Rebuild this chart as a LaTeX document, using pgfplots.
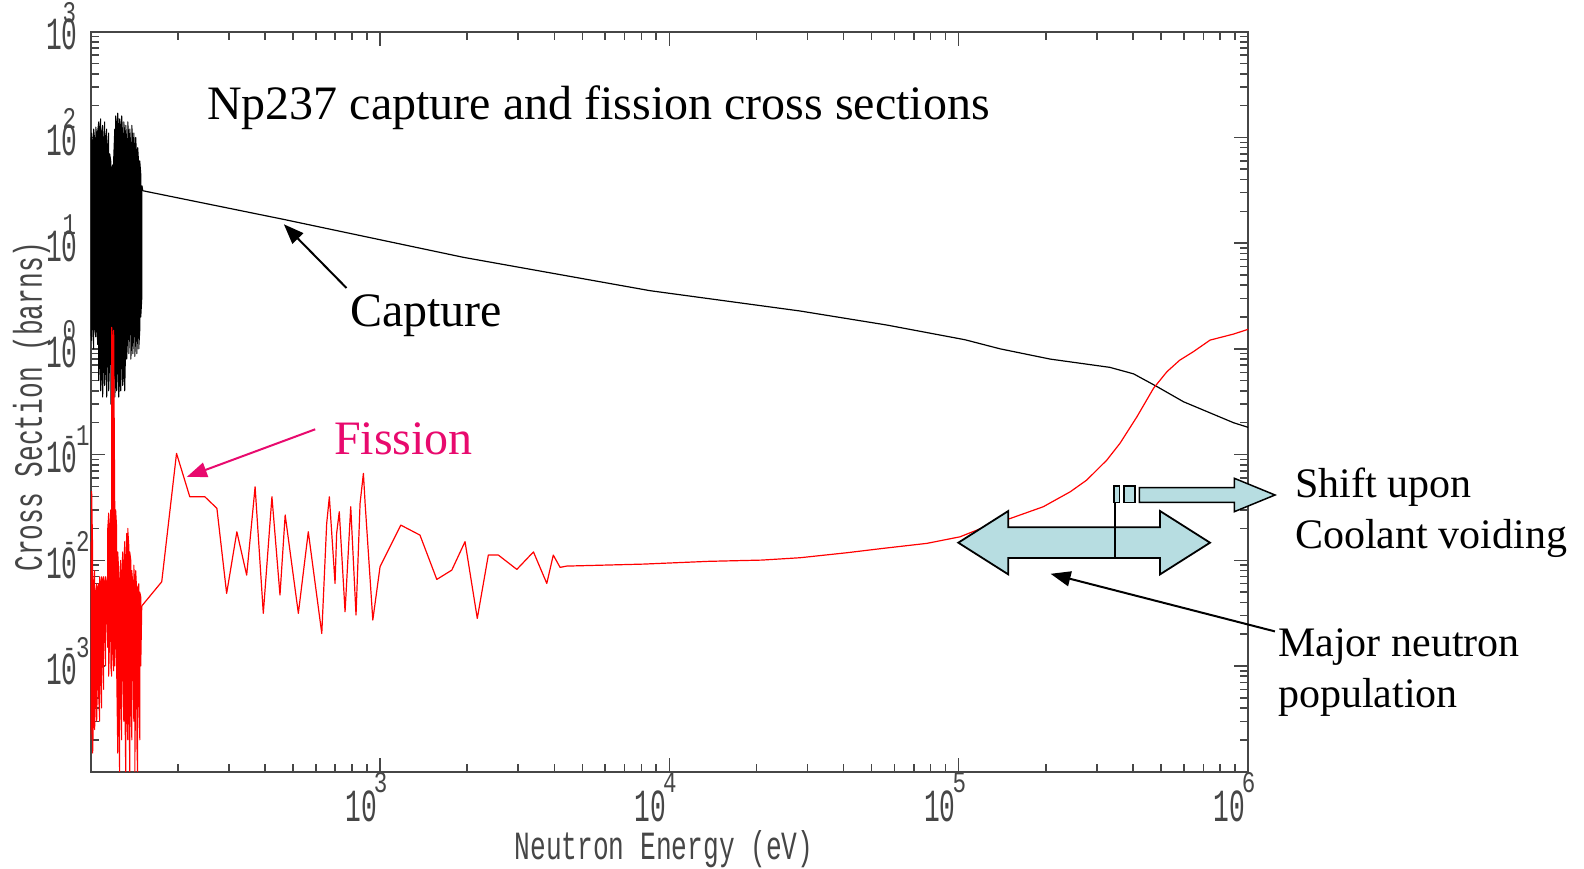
\documentclass[border=0pt]{standalone}
\usepackage{fontspec}
\setmainfont{Liberation Serif}
\newfontfamily\plotfont[FakeStretch=0.57]{Liberation Mono}
\newfontfamily\expfont[FakeStretch=0.75]{Liberation Mono}
\newfontfamily\labfont[FakeStretch=0.655]{Liberation Mono}
\usepackage{pgfplots}
\pgfplotsset{compat=1.18}
\usetikzlibrary{arrows.meta}
\definecolor{fisspink}{RGB}{232,10,110}
\definecolor{arrowcyan}{RGB}{183,221,225}
\definecolor{axgray}{RGB}{70,70,70}
\newcommand{\xlab}[1]{\plotfont\fontsize{46}{46}\selectfont 10\kern-3pt\rlap{\raisebox{29pt}[0pt][0pt]{\expfont\fontsize{30}{30}\selectfont #1}}\kern3pt}
\newcommand{\ylab}[1]{\plotfont\fontsize{46}{46}\selectfont 10\kern-15pt\rlap{\raisebox{27pt}[0pt][0pt]{\expfont\fontsize{30}{30}\selectfont #1}}\kern15pt}
\begin{document}
\begin{tikzpicture}
\useasboundingbox (0,0) rectangle (1584pt,868pt);
\begin{axis}[
  at={(90.7pt,96.3pt)}, anchor=south west,
  scale only axis, width=1157.3pt, height=740pt,
  xmode=log, ymode=log,
  xmin=100, xmax=1e6, ymin=1e-4, ymax=1e3,
  xtick={1e2,1e3,1e4,1e5,1e6},
  xticklabels={,\xlab{3},\xlab{4},\xlab{5},\xlab{6}},
  ytick={1e-4,1e-3,1e-2,1e-1,1,10,100,1000},
  yticklabels={,\ylab{-3},\ylab{-2},\ylab{-1},\ylab{0},\ylab{1},\ylab{2},\ylab{3}},
  minor xtick={200,300,400,500,600,700,800,900,2000,3000,4000,5000,6000,7000,8000,9000,20000,30000,40000,50000,60000,70000,80000,90000,200000,300000,400000,500000,600000,700000,800000,900000},
  minor ytick={2e-4,3e-4,4e-4,5e-4,6e-4,7e-4,8e-4,9e-4,2e-3,3e-3,4e-3,5e-3,6e-3,7e-3,8e-3,9e-3,0.02,0.03,0.04,0.05,0.06,0.07,0.08,0.09,0.2,0.3,0.4,0.5,0.6,0.7,0.8,0.9,2,3,4,5,6,7,8,9,20,30,40,50,60,70,80,90,200,300,400,500,600,700,800,900},
  tick align=inside,
  major tick length=14pt, minor tick length=8pt,
  axis line style={axgray, line width=2pt},
  every tick/.style={axgray, line width=1.5pt},
  xticklabel style={anchor=north east, inner sep=0pt, xshift=-3pt, yshift=-19pt, text=axgray},
  yticklabel style={anchor=east, inner sep=0pt, xshift=-13pt, yshift=-3pt, text=axgray},
]
% capture (black)
\addplot[black, line width=1pt, line join=round, no marks] coordinates {
(100.0,100)(100.0,1.5)(100.8,1.2)(100.8,110)(101.6,85)(101.6,1.8)(102.4,1.0)(102.4,120)
(103.2,95)(103.2,1.6)(104.1,1.3)(104.1,125)(104.9,105)(104.9,2.0)(105.7,1.1)(105.7,115)
(106.6,140)(106.6,0.5)(107.4,0.8)(107.4,120)(108.3,150)(108.3,0.4)(109.1,0.6)(109.1,110)
(110.0,130)(110.0,0.35)(110.9,0.9)(110.9,90)(111.8,140)(111.8,0.45)(112.7,0.7)(112.7,100)
(113.6,120)(113.6,0.35)(114.5,1.2)(114.5,80)(115.4,110)(115.4,0.4)(116.3,0.8)(116.3,70)
(117.3,60)(117.3,0.3)(118.2,0.5)(118.2,50)(119.1,55)(119.1,0.3)(120.1,0.6)(120.1,65)
(121.1,120)(121.1,0.35)(122.0,0.5)(122.0,160)(123.0,130)(123.0,0.4)(124.0,0.8)(124.0,170)
(125.0,110)(125.0,0.35)(126.0,0.55)(126.0,150)(127.0,120)(127.0,0.4)(128.0,1.0)(128.0,160)
(129.0,100)(129.0,0.45)(130.1,0.6)(130.1,140)(131.1,110)(131.1,0.4)(132.2,1.2)(132.2,130)
(133.2,90)(133.2,0.8)(134.3,1.4)(134.3,140)(135.4,100)(135.4,0.9)(136.5,1.6)(136.5,120)
(137.6,80)(137.6,0.8)(138.7,1.2)(138.7,130)(139.8,90)(139.8,0.9)(140.9,1.5)(140.9,110)
(142.0,70)(142.0,0.85)(143.1,1.3)(143.1,100)(144.3,60)(144.3,0.9)(145.4,1.4)(145.4,80)
(146.6,55)(146.6,1.0)(147.8,1.5)(147.8,60)(149.0,45)(149.0,2.0)(150.2,3.0)(150.2,35)
};
\addplot[black, line width=1.2pt, line join=round, no marks] coordinates {
(150.2,35)(151.4,31.3)(463,16.8)(1941,7.34)(8570,3.55)(28300,2.28)(56400,1.68)(105000,1.22)
(139000,1.0)(207000,0.80)(333000,0.668)(402000,0.58)(484000,0.44)(598000,0.316)
(891000,0.20)(1000000,0.181)
};
% fission (red)
\addplot[red, line width=1pt, line join=round, no marks] coordinates {
(100.0,0.015)(100.0,2e-4)(100.8,3e-4)(100.8,0.045)(101.6,0.012)(101.6,1.5e-4)(102.4,4e-4)(102.4,0.006)
(103.2,0.008)(103.2,2.5e-4)(104.1,6e-4)(104.1,0.005)(104.9,0.006)(104.9,3e-4)(105.7,1e-3)(105.7,0.0055)
(106.6,0.006)(106.6,5e-4)(107.4,3e-4)(107.4,0.007)(108.3,0.006)(108.3,8e-4)(109.1,4e-4)(109.1,0.007)
(110.0,0.0065)(110.0,1.2e-3)(110.9,6e-4)(110.9,0.007)(111.8,0.006)(111.8,2e-3)(112.7,1e-3)(112.7,0.007)
(113.6,0.006)(113.6,3e-3)(114.5,1.5e-3)(114.5,0.02)(115.4,0.028)(115.4,8e-4)(116.3,2e-3)(116.3,0.02)
(117.3,0.03)(117.3,1e-3)(118.2,8e-4)(118.2,1.6)(119.1,1.2)(119.1,1.5e-3)(120.1,9e-4)(120.1,1.5)
(121.1,0.035)(121.1,1e-3)(122.0,2e-3)(122.0,0.03)(123.0,0.02)(123.0,8e-4)(124.0,1.5e-4)(124.0,0.012)
(125.0,0.008)(125.0,3e-4)(126.0,8e-5)(126.0,0.006)(127.0,0.01)(127.0,5e-4)(128.0,2e-4)(128.0,0.007)
(129.0,0.012)(129.0,1e-3)(130.1,3e-4)(130.1,0.009)(131.1,0.015)(131.1,6e-4)(132.2,8e-5)(132.2,0.01)
(133.2,0.018)(133.2,4e-4)(134.3,2e-4)(134.3,0.02)(135.4,0.014)(135.4,8e-4)(136.5,8e-5)(136.5,0.012)
(137.6,0.01)(137.6,5e-4)(138.7,2e-4)(138.7,0.008)(139.8,0.006)(139.8,1.5e-3)(140.9,3e-4)(140.9,0.009)
(142.0,0.006)(142.0,1e-4)(143.1,6e-4)(143.1,0.008)(144.3,0.005)(144.3,2e-4)(145.4,8e-5)(145.4,0.0055)
(146.6,0.006)(146.6,5e-4)(147.8,2e-4)(147.8,0.005)(149.0,0.0045)(149.0,1e-3)(150.2,3.7e-3)
};
\addplot[red, line width=1.2pt, line join=round, no marks] coordinates {
(150.2,3.7e-3)(176,6.26e-3)(198,0.1026)(220,0.0399)(248,0.0399)(273,0.031)(295,4.86e-3)
(320,0.0186)(346,7.24e-3)(370,0.0496)(395,3.15e-3)(423,0.0399)(451,4.69e-3)(470,0.0268)
(522,3.15e-3)(565,0.0186)(629,2.03e-3)(654,0.0223)(668,0.0399)(699,6.04e-3)(708,0.018)
(723,0.0288)(757,3.26e-3)(792,0.0321)(826,3.03e-3)(853,0.0345)(876,0.0664)(888,0.0345)
(944,2.72e-3)(1000,8.69e-3)(1180,0.0215)(1374,0.0173)(1571,6.59e-3)(1770,8.07e-3)
(1967,0.0150)(2168,2.82e-3)(2367,0.0112)(2564,0.0112)(2970,8.20e-3)(3390,0.0120)
(3770,6.04e-3)(3970,0.0112)(4190,8.57e-3)(4415,8.81e-3)(8130,9.20e-3)(13650,9.77e-3)
(20840,0.01004)(28300,0.01057)(41000,0.01178)(54900,0.01297)(77600,0.01445)(101000,0.01667)
(132000,0.0223)(151000,0.0249)(196000,0.0321)(243000,0.0445)(277000,0.0574)(325000,0.0887)
(361000,0.128)(413000,0.228)(471000,0.423)(524000,0.607)(580000,0.78)(647000,0.94)(739000,1.21)
(891000,1.38)(1000000,1.53)
};
\end{axis}
\begin{scope}[x=1pt,y=-1pt,yshift=868pt]
% axis labels
\node[rotate=90, anchor=base, inner sep=0pt, text=axgray] at (42,406.5) {\labfont\fontsize{40}{40}\selectfont Cross Section (barns)};
\node[anchor=base, inner sep=0pt, text=axgray] at (664,859) {\labfont\fontsize{40}{40}\selectfont Neutron Energy (eV)};
% texts
\node[anchor=base west, inner sep=0pt] at (207,119.2) {\fontsize{48}{58}\selectfont Np237 capture and fission cross sections};
\node[anchor=base west, inner sep=0pt] at (350,326.7) {\fontsize{48}{58}\selectfont Capture};
\node[anchor=base west, inner sep=0pt, text=fisspink] at (334,455) {\fontsize{48}{58}\selectfont Fission};
\node[anchor=base west, inner sep=0pt] at (1295,498) {\fontsize{42}{50}\selectfont Shift upon};
\node[anchor=base west, inner sep=0pt] at (1295,548.5) {\fontsize{42}{50}\selectfont Coolant voiding};
\node[anchor=base west, inner sep=0pt] at (1278,656.6) {\fontsize{42}{50}\selectfont Major neutron};
\node[anchor=base west, inner sep=0pt] at (1278,707) {\fontsize{42}{50}\selectfont population};
% arrows
\draw[line width=2pt, -{Triangle[length=20pt,width=15pt]}] (346.5,288) -- (283.9,224.3);
\draw[fisspink, line width=2pt, -{Triangle[length=20pt,width=15pt]}] (315.2,429.3) -- (186.9,476.8);
\draw[line width=2pt, -{Triangle[length=20pt,width=15pt]}] (1274.9,631.4) -- (1050.6,573.8);
% double arrow
\draw[fill=arrowcyan, line width=1.8pt, line join=miter] (958.3,542.7) -- (1008.3,511) -- (1008.3,527.3) -- (1160,527.3) -- (1160,511) -- (1210,542.7) -- (1160,574.4) -- (1160,558) -- (1008.3,558) -- (1008.3,574.4) -- cycle;
\draw[line width=1.5pt] (1115,486) -- (1115,558);
\draw[fill=arrowcyan, line width=1.5pt] (1114,486) rectangle (1119.5,502.3);
\draw[fill=arrowcyan, line width=1.5pt] (1124,486) rectangle (1135,502.3);
\draw[fill=arrowcyan, line width=1.5pt, line join=miter] (1139.3,487.7) -- (1234.3,487.7) -- (1234.3,478.3) -- (1275,495) -- (1234.3,511.7) -- (1234.3,502.3) -- (1139.3,502.3) -- cycle;
\end{scope}
\end{tikzpicture}
\end{document}
